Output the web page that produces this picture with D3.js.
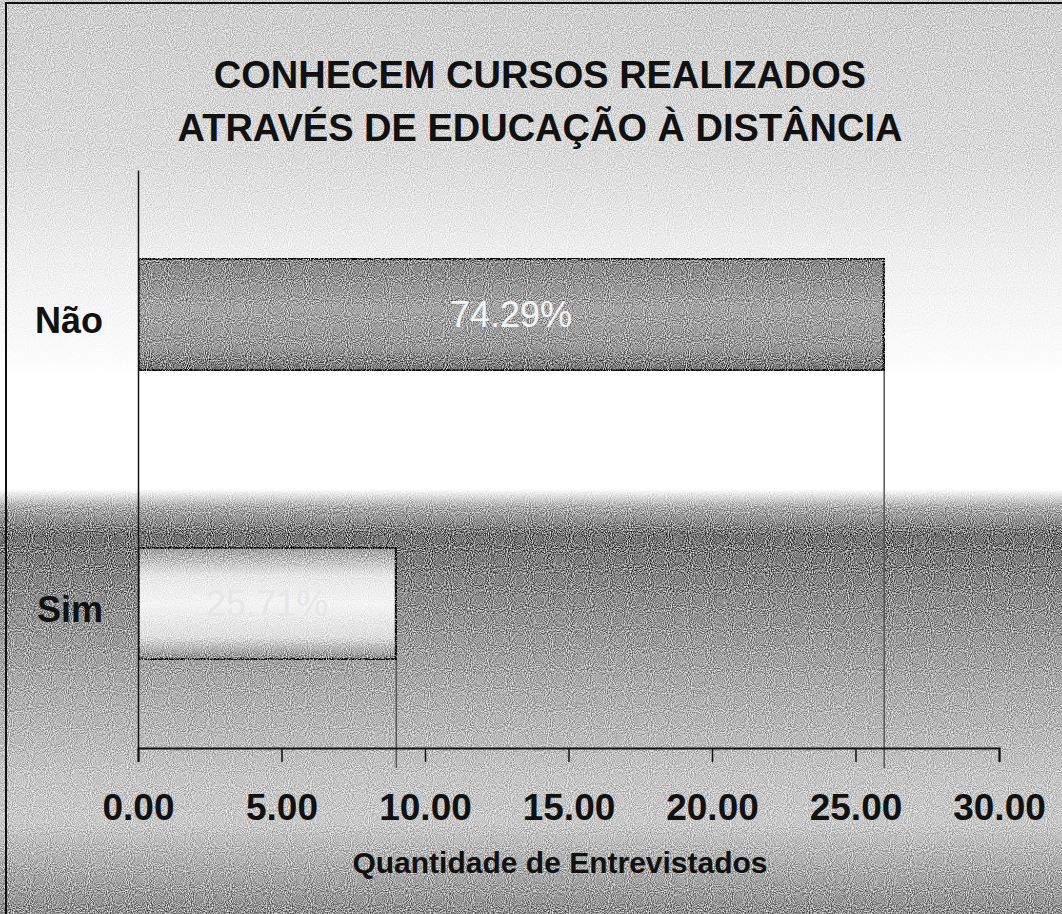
<!DOCTYPE html>
<html>
<head>
<meta charset="utf-8">
<script src="https://cdn.jsdelivr.net/npm/d3@7"></script>
<style>
  body { margin: 0; background: #fff; }
  text { font-family: "Liberation Sans", Arial, sans-serif; }
</style>
</head>
<body>
<script>
// chart data
var categories = ["Não", "Sim"];
var values = [26, 9];
var percentLabels = ["74.29%", "25.71%"];
var xTicks = [0, 5, 10, 15, 20, 25, 30];
var titleLines = ["CONHECEM CURSOS REALIZADOS", "ATRAVÉS DE EDUCAÇÃO À DISTÂNCIA"];
var xTitle = "Quantidade de Entrevistados";

// dimensions of the picture and of the plot area
var W = 1062, H = 914;
var margin = {top: 170, right: 63, bottom: 166, left: 138},
  width = W - margin.left - margin.right,
  height = H - margin.top - margin.bottom;

// set the ranges
var x = d3.scaleLinear().domain([0, 30]).range([0, width]);
var y = d3.scaleBand().domain(categories).range([0, height])
  .paddingInner(0.61).paddingOuter(0.305);

var svg = d3.select("body").append("svg")
  .attr("width", W)
  .attr("height", H);

var defs = svg.append("defs");

// background gradient (grey sky, white band, dark horizon)
var bgStops = [
  [0, "#cdcdcd"], [0.17, "#dadada"], [0.28, "#eeeeee"], [0.39, "#fbfbfb"],
  [0.41, "#ffffff"], [0.535, "#ffffff"], [0.555, "#ababab"], [0.585, "#737373"],
  [0.65, "#8a8a8a"], [0.75, "#aaaaaa"], [0.85, "#c4c4c4"], [0.9, "#c8c8c8"],
  [0.94, "#b0b0b0"], [1, "#8e8e8e"]
];
var bg = defs.append("linearGradient").attr("id", "bg")
  .attr("x1", 0).attr("y1", 0).attr("x2", 0).attr("y2", 1);
bg.selectAll("stop").data(bgStops).enter().append("stop")
  .attr("offset", function(d) { return d[0]; })
  .attr("stop-color", function(d) { return d[1]; });

// bar gradients
var gNao = defs.append("linearGradient").attr("id", "gNao")
  .attr("x1", 0).attr("y1", 0).attr("x2", 0).attr("y2", 1);
[[0, "#878787"], [0.45, "#a4a4a4"], [0.8, "#979797"], [1, "#747474"]].forEach(function(s) {
  gNao.append("stop").attr("offset", s[0]).attr("stop-color", s[1]);
});
var gSim = defs.append("linearGradient").attr("id", "gSim")
  .attr("x1", 0).attr("y1", 0).attr("x2", 0).attr("y2", 1);
[[0, "#9a9a9a"], [0.25, "#e6e6e6"], [0.5, "#f4f4f4"], [0.8, "#dedede"], [1, "#8c8c8c"]].forEach(function(s) {
  gSim.append("stop").attr("offset", s[0]).attr("stop-color", s[1]);
});

// grain filter to imitate the halftone of the scan
var f = defs.append("filter").attr("id", "grain")
  .attr("x", 0).attr("y", 0).attr("width", 1).attr("height", 1)
  .attr("color-interpolation-filters", "sRGB");
f.append("feTurbulence").attr("type", "fractalNoise")
  .attr("baseFrequency", 0.95).attr("numOctaves", 1).attr("seed", 3).attr("result", "noise");
f.append("feColorMatrix").attr("in", "noise").attr("type", "matrix")
  .attr("values", "1 0 0 0 0  1 0 0 0 0  1 0 0 0 0  0 0 0 0 1").attr("result", "grey");
var ct = f.append("feComponentTransfer").attr("in", "grey").attr("result", "n");
["feFuncR", "feFuncG", "feFuncB"].forEach(function(fn) {
  ct.append(fn).attr("type", "linear").attr("slope", 1.6).attr("intercept", -0.3);
});
f.append("feComposite").attr("in", "SourceGraphic").attr("in2", "n")
  .attr("operator", "arithmetic")
  .attr("k1", 2).attr("k2", 0).attr("k3", -2).attr("k4", 1);

svg.append("rect")
  .attr("width", W).attr("height", H)
  .attr("fill", "url(#bg)")
  .attr("filter", "url(#grain)");

// frame (only left and top edges are visible)
svg.append("rect")
  .attr("x", 6).attr("y", 3)
  .attr("width", W + 20).attr("height", H + 20)
  .attr("fill", "none").attr("stroke", "#111").attr("stroke-width", 2);

// title
svg.selectAll(".title").data(titleLines).enter().append("text")
  .attr("class", "title")
  .attr("x", 540)
  .attr("y", function(d, i) { return 88 + i * 53; })
  .attr("text-anchor", "middle")
  .attr("font-size", 38).attr("font-weight", "bold").attr("fill", "#111")
  .text(function(d) { return d; });

var g = svg.append("g")
  .attr("transform", "translate(" + margin.left + "," + margin.top + ")");

// drop lines from the bar ends down to the axis
g.selectAll(".drop").data(values).enter().append("line")
  .attr("class", "drop")
  .attr("x1", function(d) { return x(d); })
  .attr("x2", function(d) { return x(d); })
  .attr("y1", function(d, i) { return y(categories[i]) + y.bandwidth(); })
  .attr("y2", height + 20)
  .attr("stroke", "#555").attr("stroke-width", 1.5);

// bars
g.selectAll(".bar").data(values).enter().append("rect")
  .attr("class", "bar")
  .attr("x", x(0))
  .attr("y", function(d, i) { return y(categories[i]); })
  .attr("width", function(d) { return x(d) - x(0); })
  .attr("height", y.bandwidth())
  .attr("fill", function(d, i) { return i === 0 ? "url(#gNao)" : "url(#gSim)"; })
  .attr("filter", "url(#grain)")
  .attr("stroke", "#111").attr("stroke-width", 3);

// percentage labels inside the bars
g.selectAll(".pct").data(values).enter().append("text")
  .attr("class", "pct")
  .attr("x", function(d) { return x(d) / 2; })
  .attr("y", function(d, i) { return y(categories[i]) + y.bandwidth() / 2; })
  .attr("dy", "0.36em")
  .attr("text-anchor", "middle")
  .attr("font-size", 36)
  .attr("fill", function(d, i) { return i === 0 ? "#f4f4f4" : "#e6e6e6"; })
  .text(function(d, i) { return percentLabels[i]; });

// X axis
var xAxis = g.append("g")
  .attr("transform", "translate(0," + height + ")")
  .call(d3.axisBottom(x).tickValues(xTicks).tickFormat(d3.format(".2f"))
    .tickSize(14).tickPadding(32));
xAxis.select(".domain").attr("stroke", "#111").attr("stroke-width", 2);
xAxis.selectAll(".tick line").attr("stroke", "#111").attr("stroke-width", 1.5);
xAxis.selectAll(".tick text")
  .attr("font-family", "Liberation Sans, Arial, sans-serif")
  .attr("font-size", 37).attr("font-weight", "bold").attr("fill", "#111");

// Y axis
var yAxis = g.append("g")
  .call(d3.axisLeft(y).tickSize(0).tickPadding(35));
yAxis.select(".domain").attr("stroke", "#111").attr("stroke-width", 1.5);
yAxis.selectAll(".tick text")
  .attr("dy", "0.5em")
  .attr("font-family", "Liberation Sans, Arial, sans-serif")
  .attr("font-size", 36).attr("font-weight", "bold").attr("fill", "#111");

// X axis title
svg.append("text")
  .attr("x", 560).attr("y", 873)
  .attr("text-anchor", "middle")
  .attr("font-size", 30).attr("font-weight", "bold").attr("fill", "#111")
  .text(xTitle);
</script>
</body>
</html>
